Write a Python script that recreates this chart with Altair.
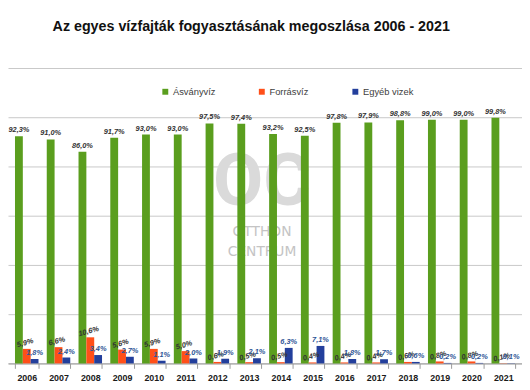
import altair as alt
import pandas as pd

years = ["2006", "2007", "2008", "2009", "2010", "2011", "2012", "2013",
         "2014", "2015", "2016", "2017", "2018", "2019", "2020", "2021"]
kinds = ["Ásványvíz", "Forrásvíz", "Egyéb vizek"]
asvanyviz = [92.3, 91.0, 86.0, 91.7, 93.0, 93.0, 97.5, 97.4, 93.2, 92.5, 97.8, 97.9, 98.8, 99.0, 99.0, 99.8]
forrasviz = [5.9, 6.6, 10.6, 5.6, 5.9, 5.0, 0.6, 0.5, 0.5, 0.4, 0.4, 0.4, 0.6, 0.8, 0.8, 0.1]
egyeb_vizek = [1.8, 2.4, 3.4, 2.7, 1.1, 2.0, 1.9, 2.1, 6.3, 7.1, 1.8, 1.7, 0.6, 0.2, 0.2, 0.1]
colors = ["#5A9E1E", "#FF4F19", "#233F9C"]

rows = []
for i, y in enumerate(years):
    for k, series in zip(kinds, [asvanyviz, forrasviz, egyeb_vizek]):
        v = series[i]
        rows.append({"year": y, "kind": k, "value": v,
                     "label": f"{v:.1f}%".replace(".", ",")})
df = pd.DataFrame(rows)

FONT = "Liberation Sans"

base = alt.Chart(df).encode(
    x=alt.X("year:N", sort=years,
            scale=alt.Scale(paddingInner=0.26, paddingOuter=0.22),
            axis=alt.Axis(title=None, labelAngle=0, tickBand="extent", tickSize=5,
                          tickColor="#9a9a9a", domainColor="#9a9a9a",
                          labelFont=FONT, labelFontSize=9, labelFontWeight="bold",
                          labelColor="#1a1a1a", labelPadding=5, grid=False)),
    xOffset=alt.XOffset("kind:N", sort=kinds, scale=alt.Scale(paddingInner=0, paddingOuter=0)),
    y=alt.Y("value:Q", scale=alt.Scale(domain=[0, 120], nice=False),
            axis=alt.Axis(title=None, values=[0, 20, 40, 60, 80, 100, 120],
                          labels=False, ticks=False, domain=False,
                          gridColor="#c8c8c8", gridWidth=1)),
)

bars = base.mark_bar().encode(
    color=alt.Color("kind:N", sort=kinds,
                    scale=alt.Scale(domain=kinds, range=colors),
                    legend=alt.Legend(orient="none", direction="horizontal", columns=3,
                                      legendX=155, legendY=19, title=None,
                                      symbolType="square", symbolSize=36,
                                      symbolStrokeWidth=0, labelFont=FONT,
                                      labelFontSize=9.5, labelColor="#404040",
                                      labelOffset=3, columnPadding=42, padding=0))
)

def labels(kind, color, angle=0):
    return base.transform_filter(alt.datum.kind == kind).mark_text(
        baseline="bottom", dy=-2, font=FONT, fontSize=7.5, fontStyle="italic",
        fontWeight="bold", color=color, angle=angle
    ).encode(text="label:N")

wm1 = alt.Chart(pd.DataFrame({"t": ["OC"]})).mark_text(
    font="Roboto", fontSize=74, fontWeight="bold", color="#dadada",
    baseline="middle").encode(text="t:N", x=alt.value(258), y=alt.value(117))
wm2 = alt.Chart(pd.DataFrame({"t": ["OTTHON"]})).mark_text(
    font="DejaVu Sans", fontSize=14, color="#c4c4c4", baseline="middle").encode(
    text="t:N", x=alt.value(258), y=alt.value(167))
wm3 = alt.Chart(pd.DataFrame({"t": ["CENTRUM"]})).mark_text(
    font="DejaVu Sans", fontSize=14, color="#c4c4c4", baseline="middle").encode(
    text="t:N", x=alt.value(258), y=alt.value(187))

chart = alt.layer(
    wm1, wm2, wm3, bars,
    labels("Ásványvíz", "#333333"),
    labels("Forrásvíz", "#333333", 345),
    labels("Egyéb vizek", "#2E5596"),
).properties(
    width=522, height=300,
    title=alt.Title("Az egyes vízfajták fogyasztásának megoszlása 2006 - 2021",
                    font=FONT, fontSize=14.5, fontWeight="bold", color="#111111",
                    anchor="middle", frame="group", offset=34, dx=-14),
    autosize=alt.AutoSizeParams(type="none"),
    padding={"left": 0, "top": 58, "right": 0, "bottom": 20},
).configure_view(stroke=None)

chart.save("out.html", embed_options={"renderer": "svg", "actions": False})
